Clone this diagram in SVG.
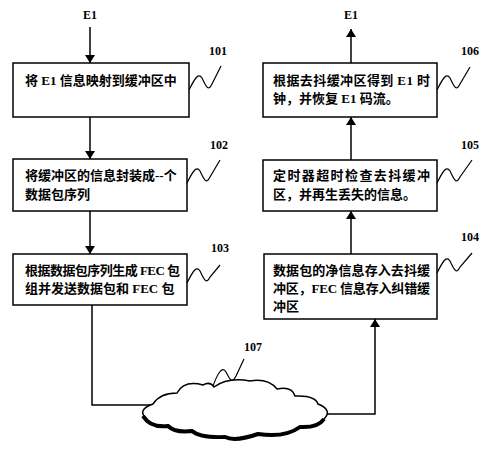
<svg xmlns="http://www.w3.org/2000/svg" width="491" height="450" viewBox="0 0 491 450">
<defs>
<marker id="ah" viewBox="0 0 8 10" refX="8" refY="5" markerWidth="8" markerHeight="10" markerUnits="userSpaceOnUse" orient="auto">
<path d="M0,0 L8,5 L0,10 Z" fill="#000"/>
</marker>
</defs>
<style>
.box{fill:#fff;stroke:#000;stroke-width:1.5}
.t{font-family:"Liberation Serif","Noto Sans CJK SC",serif;font-size:13px;font-weight:bold;fill:#000}
.n{font-family:"Liberation Serif",serif;font-size:12px;font-weight:bold;fill:#000}
.ln{fill:none;stroke:#000;stroke-width:1.5}
.sq{fill:none;stroke:#000;stroke-width:1.2}
</style>
<rect width="491" height="450" fill="#fff"/>
<g id="connectors">
<text class="n" x="90" y="19" text-anchor="middle" font-size="13">E1</text>
<line class="ln" x1="90" y1="27" x2="90" y2="63" marker-end="url(#ah)"/>
<line class="ln" x1="90" y1="117" x2="90" y2="159" marker-end="url(#ah)"/>
<line class="ln" x1="90" y1="211" x2="90" y2="254" marker-end="url(#ah)"/>
<polyline class="ln" points="92,305 92,405 152,405"/>
<polyline class="ln" points="325,414 375,414 375,319" marker-end="url(#ah)"/>
<line class="ln" x1="351" y1="254" x2="351" y2="211" marker-end="url(#ah)"/>
<line class="ln" x1="351" y1="160" x2="351" y2="117" marker-end="url(#ah)"/>
<line class="ln" x1="351" y1="63" x2="351" y2="29" marker-end="url(#ah)"/>
<text class="n" x="351" y="19" text-anchor="middle" font-size="13">E1</text>
</g>
<g id="n101">
<rect class="box" x="13" y="63" width="176" height="54"/>
<text class="t" x="25" y="85">将 E1 信息映射到缓冲区中</text>
<path class="sq" d="M189,90 C194,80 198,72 202,78 C206,86 208,92 212,84 L221,66"/>
<text class="n" x="218" y="55" text-anchor="middle">101</text>
</g>
<g id="n102">
<rect class="box" x="13" y="159" width="174" height="52"/>
<text class="t" x="25" y="180">将缓冲区的信息封装成--个</text>
<text class="t" x="25" y="199">数据包序列</text>
<path class="sq" d="M187,183 C192,173 196,165 200,171 C204,179 206,185 210,177 L220,160"/>
<text class="n" x="219" y="149" text-anchor="middle">102</text>
</g>
<g id="n103">
<rect class="box" x="13" y="254" width="174" height="51"/>
<text class="t" x="25" y="275" textLength="155" lengthAdjust="spacing">根据数据包序列生成 FEC 包</text>
<text class="t" x="25" y="293">组并发送数据包和 FEC 包</text>
<path class="sq" d="M187,283 C192,273 196,265 200,271 C204,279 206,285 210,277 L220,265"/>
<text class="n" x="220" y="252" text-anchor="middle">103</text>
</g>
<g id="n106">
<rect class="box" x="263" y="63" width="174" height="54"/>
<text class="t" x="273" y="85" textLength="157" lengthAdjust="spacing">根据去抖缓冲区得到 E1 时</text>
<text class="t" x="273" y="103">钟，并恢复 E1 码流。</text>
<path class="sq" d="M437,90 C442,80 446,72 450,78 C454,86 456,92 460,84 L470,67"/>
<text class="n" x="470" y="55" text-anchor="middle">106</text>
</g>
<g id="n105">
<rect class="box" x="263" y="160" width="174" height="51"/>
<text class="t" x="273" y="180" textLength="157" lengthAdjust="spacing">定时器超时检查去抖缓冲</text>
<text class="t" x="273" y="199">区，并再生丢失的信息。</text>
<path class="sq" d="M437,183 C442,173 446,165 450,171 C454,179 456,185 460,177 L472,160"/>
<text class="n" x="470" y="149" text-anchor="middle">105</text>
</g>
<g id="n104">
<rect class="box" x="264" y="254" width="173" height="65"/>
<text class="t" x="273" y="275" textLength="157" lengthAdjust="spacing">数据包的净信息存入去抖缓</text>
<text class="t" x="273" y="293" textLength="157" lengthAdjust="spacing">冲区，FEC 信息存入纠错缓</text>
<text class="t" x="273" y="311">冲区</text>
<path class="sq" d="M437,273 C442,263 446,255 450,261 C454,269 456,275 460,267 L472,253"/>
<text class="n" x="470" y="241" text-anchor="middle">104</text>
</g>
<g id="n107">
<path d="M147,419 Q136,410 153,404 Q160,393 177,393 Q184,380 203,385 Q210,381 214,387 Q228,377 250,381 Q268,378 277,389 Q292,386 295,396 Q315,395 318,404 Q333,410 324,419 Q318,428 300,427 Q285,438 258,434 Q235,442 225,437 Q200,438 192,431 Q175,433 168,426 Q150,428 147,419 Z" fill="#fff" stroke="#000" stroke-width="1.5"/>
<path d="M143,416 Q150,428 168,426 Q175,433 192,431 Q200,438 225,437 Q235,442 258,434 Q285,438 300,427 Q318,428 324,419" fill="none" stroke="#000" stroke-width="4"/>
<path class="sq" d="M213,386 C217,375 222,365 226,372 C230,380 232,384 236,376 L244,359"/>
<text class="n" x="253" y="351" text-anchor="middle">107</text>
</g>
</svg>
